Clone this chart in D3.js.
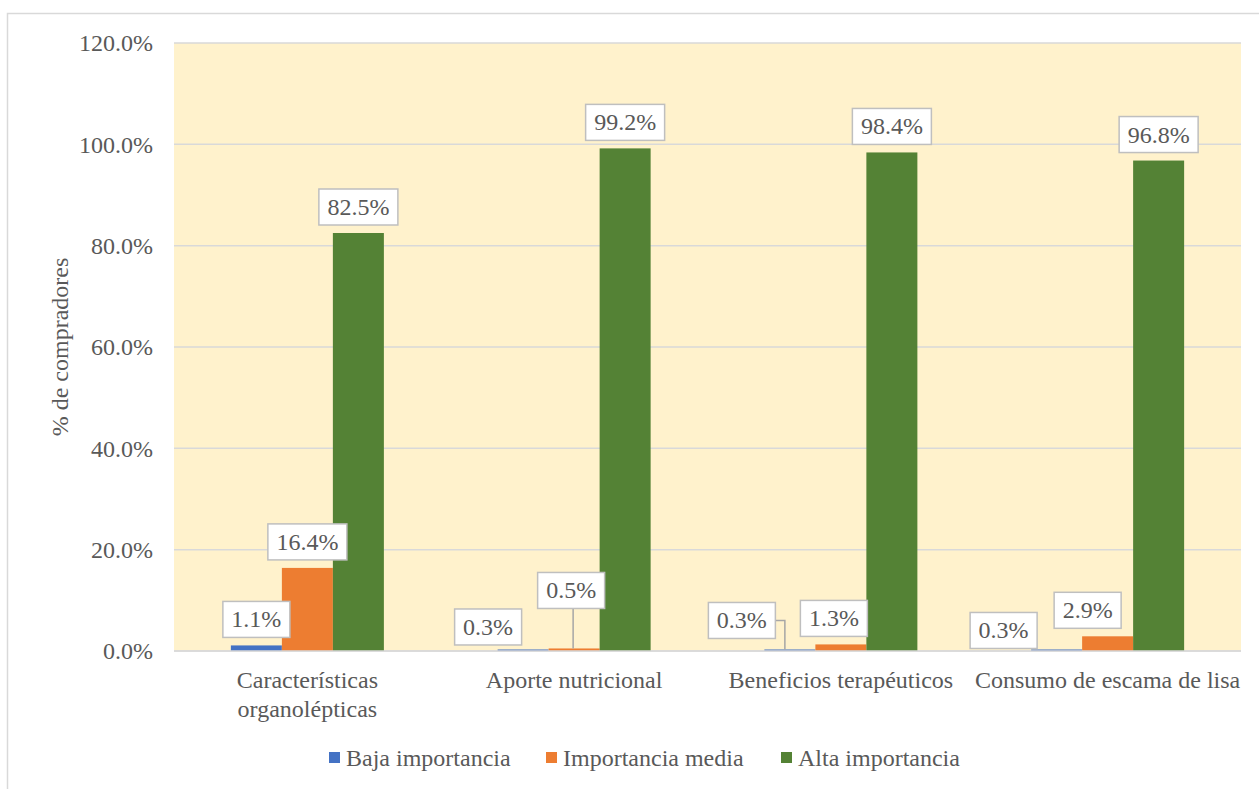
<!DOCTYPE html>
<html>
<head>
<meta charset="utf-8">
<script src="https://cdn.jsdelivr.net/npm/d3@7"></script>
<style>
  html, body { margin: 0; padding: 0; background: #fff; }
  svg { display: block; }
</style>
</head>
<body>
<svg id="chart" width="1259" height="789"></svg>
<script>
// ---- data ----
const categories = ["Características organolépticas", "Aporte nutricional", "Beneficios terapéuticos", "Consumo de escama de lisa"];
const seriesNames = ["Baja importancia", "Importancia media", "Alta importancia"];
const bajaImportancia = [1.1, 0.3, 0.3, 0.3];
const importanciaMedia = [16.4, 0.5, 1.3, 2.9];
const altaImportancia = [82.5, 99.2, 98.4, 96.8];
const yTicks = [0, 20, 40, 60, 80, 100, 120];
const yTitle = "% de compradores";

// ---- label layout adjustments (dx, dy) per series/category ----
const labelShift = [
  [[0, 0], [-35, 3.5], [-48, -3], [-53, 7]],
  [[0, 0], [-3, -32], [-7, 0], [-20, 0]],
  [[0, 0], [0, 0], [0, 0], [0, 0]]
];

const FONT = "'Liberation Serif', 'Times New Roman', serif";
const TXT = "#595959";
const colors = ["#4472C4", "#ED7D31", "#548235"];
const seriesValues = [bajaImportancia, importanciaMedia, altaImportancia];

const svg = d3.select("#chart").attr("font-family", FONT);
const W = 1259, H = 789;
const plot = { left: 174, right: 1241, top: 43, bottom: 651 };

function T(sel) { return sel.attr("font-family", FONT).attr("fill", TXT).attr("font-size", 24); }

// outer chart border
svg.append("rect").attr("x", 7.5).attr("y", 13.5).attr("width", W).attr("height", H)
  .attr("fill", "#fff").attr("stroke", "#D9D9D9").attr("stroke-width", 1.5);

const x0 = d3.scaleBand().domain(categories).range([plot.left, plot.right])
  .paddingInner(0.4264).paddingOuter(0.2132);
const x1 = d3.scaleBand().domain(seriesNames).range([0, x0.bandwidth()]).padding(0);
const y = d3.scaleLinear().domain([0, 120]).range([plot.bottom, plot.top]);

// plot background
svg.append("rect").attr("x", plot.left).attr("y", plot.top)
  .attr("width", plot.right - plot.left).attr("height", plot.bottom - plot.top)
  .attr("fill", "#FFF2CC");

// gridlines
svg.append("g").selectAll("line").data(yTicks).join("line")
  .attr("x1", plot.left).attr("x2", plot.right)
  .attr("y1", d => y(d)).attr("y2", d => y(d))
  .attr("stroke", "#D9D9D9").attr("stroke-width", 1.5);

// y tick labels
const yAxis = d3.axisLeft(y).tickValues(yTicks).tickSize(0).tickPadding(21)
  .tickFormat(d => d3.format(".1f")(d) + "%");
const yg = svg.append("g").attr("transform", `translate(${plot.left},0)`).call(yAxis);
yg.attr("font-family", FONT);
yg.select(".domain").remove();
T(yg.selectAll("text")).attr("dy", "0.33em");

// y title
T(svg.append("text")).attr("transform", `translate(68, ${(plot.top + plot.bottom) / 2}) rotate(-90)`)
  .attr("text-anchor", "middle").text(yTitle);

// bars
const barData = [];
categories.forEach((c, ci) => {
  seriesNames.forEach((s, si) => {
    barData.push({ c, ci, s, si, v: seriesValues[si][ci] });
  });
});

svg.append("g").selectAll("rect").data(barData).join("rect")
  .attr("x", d => x0(d.c) + x1(d.s))
  .attr("y", d => y(d.v))
  .attr("width", x1.bandwidth())
  .attr("height", d => y(0) - y(d.v))
  .attr("fill", d => colors[d.si]);

// baseline
svg.append("line").attr("x1", plot.left).attr("x2", plot.right)
  .attr("y1", y(0)).attr("y2", y(0)).attr("stroke", "#D9D9D9").attr("stroke-width", 1.5);

// data labels
const lg = svg.append("g");
barData.forEach(d => {
  const txt = d3.format(".1f")(d.v) + "%";
  const cx = x0(d.c) + x1(d.s) + x1.bandwidth() / 2;
  const barTop = y(d.v);
  const t = T(lg.append("text")).attr("text-anchor", "middle").text(txt);
  const tw = t.node().getComputedTextLength();
  const bw = tw + 17, bh = 36;
  const [dx, dy] = labelShift[d.si][d.ci];
  const bcx = cx + dx;
  const bBottom = barTop - 8 + dy;
  const bTop = bBottom - bh;
  const bLeft = bcx - bw / 2, bRight = bcx + bw / 2;
  const gap = barTop - bBottom;
  if (gap > 10) {
    let pts;
    if (bRight < cx) {
      const my = (bTop + bBottom) / 2;
      pts = [[bRight, my], [cx - 5, my], [cx - 5, barTop]];
    } else {
      pts = [[bcx + 2, bBottom], [cx - 1, barTop]];
    }
    lg.insert("path", "text").attr("d", d3.line()(pts)).attr("fill", "none")
      .attr("stroke", "#A6A6A6").attr("stroke-width", 1.5);
  }
  lg.insert("rect", "text:last-child").attr("x", bLeft).attr("y", bTop)
    .attr("width", bw).attr("height", bh)
    .attr("fill", "#fff").attr("stroke", "#BFBFBF").attr("stroke-width", 1.5);
  t.attr("x", bcx).attr("y", bTop + bh / 2 + 8);
});

// category labels with wrapping
const cg = svg.append("g");
categories.forEach(c => {
  const cx = x0(c) + x0.bandwidth() / 2;
  const words = c.split(" ");
  const t = T(cg.append("text")).attr("text-anchor", "middle");
  const maxW = x0.step();
  let lines = [], cur = [];
  const probe = T(cg.append("text"));
  words.forEach(w => {
    const test = cur.concat([w]).join(" ");
    probe.text(test);
    if (probe.node().getComputedTextLength() > maxW && cur.length) {
      lines.push(cur.join(" "));
      cur = [w];
    } else cur.push(w);
  });
  lines.push(cur.join(" "));
  probe.remove();
  lines.forEach((ln, i) => {
    t.append("tspan").attr("x", cx).attr("y", 688 + i * 29).text(ln);
  });
});

// legend
const legendX = [329, 546, 781];
const leg = svg.append("g");
seriesNames.forEach((s, i) => {
  leg.append("rect").attr("x", legendX[i]).attr("y", 752).attr("width", 11).attr("height", 11)
    .attr("fill", colors[i]);
  T(leg.append("text")).attr("x", legendX[i] + 17).attr("y", 766).text(s);
});
</script>
</body>
</html>
